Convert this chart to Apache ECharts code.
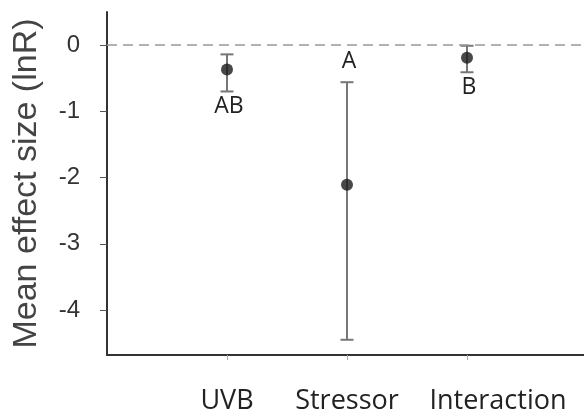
<!DOCTYPE html>
<html>
<head>
<meta charset="utf-8">
<title>Mean effect size</title>
<script src="https://cdn.jsdelivr.net/npm/echarts@6/dist/echarts.min.js"></script>
<style>
  html, body { margin: 0; padding: 0; background: #fff; }
  #chart { width: 584px; height: 416px; }
</style>
</head>
<body>
<div id="chart"></div>
<script>
// data
var categories = ['UVB', 'Stressor', 'Interaction'];
var means = [-0.37, -2.11, -0.19];
var lower = [-0.70, -4.45, -0.41];
var upper = [-0.14, -0.56, -0.01];
var letters = ['AB', 'A', 'B'];
var letterSide = ['below', 'above', 'below'];
var yTicks = [0, -1, -2, -3, -4];

// pad the category axis so the points sit 120px apart like the original
var axisCats = [''].concat(categories).concat(['']);

var barData = [], pointData = [];
for (var i = 0; i < categories.length; i++) {
    barData.push([i + 1, lower[i], upper[i], i]);
    pointData.push([i + 1, means[i]]);
}

var chart = echarts.init(document.getElementById('chart'));

var option = {
    animation: false,
    grid: { left: 107, right: -3, top: 12, bottom: 61, containLabel: false, outerBoundsMode: 'none' },
    xAxis: {
        type: 'category',
        data: axisCats,
        boundaryGap: false,
        axisLine: { onZero: false, lineStyle: { color: '#333', width: 2 } },
        axisTick: {
            length: 5,
            lineStyle: { color: '#aaa', width: 1 },
            interval: function (idx) { return idx >= 1 && idx <= categories.length; }
        },
        axisLabel: {
            interval: 0,
            margin: 33,
            color: '#222',
            fontFamily: 'Open Sans',
            fontSize: 27,
            formatter: function (v) {
                return v === 'Interaction' ? '{r|' + v + '}' : v;
            },
            rich: {
                r: { fontFamily: 'Open Sans', fontSize: 27, color: '#222', padding: [0, 0, 0, 62] }
            }
        },
        splitLine: { show: false }
    },
    yAxis: {
        type: 'value',
        min: -4.68,
        max: 0.5,
        name: 'Mean effect size (lnR)',
        nameLocation: 'middle',
        nameGap: 63,
        nameTextStyle: { fontFamily: 'Liberation Sans', fontSize: 34, color: '#444' },
        axisLine: { show: true, onZero: false, lineStyle: { color: '#333', width: 2 } },
        axisTick: {
            show: true, length: 7, lineStyle: { color: '#555', width: 1 },
            customValues: yTicks
        },
        axisLabel: {
            margin: 27,
            fontFamily: 'Liberation Sans',
            fontSize: 24,
            color: '#333',
            customValues: yTicks
        },
        splitLine: { show: false }
    },
    series: [
        {
            type: 'custom',
            data: barData,
            z: 2,
            renderItem: function (params, api) {
                var x = api.value(0);
                var lo = api.coord([x, api.value(1)]);
                var hi = api.coord([x, api.value(2)]);
                var k = api.value(3);
                var cap = 6.5;
                var style = { stroke: '#777', lineWidth: 2 };
                var ty = letterSide[k] === 'above' ? hi[1] - 21 : lo[1] + 15;
                return {
                    type: 'group',
                    children: [
                        { type: 'line', shape: { x1: lo[0], y1: lo[1], x2: hi[0], y2: hi[1] }, style: style },
                        { type: 'line', shape: { x1: lo[0] - cap, y1: lo[1], x2: lo[0] + cap, y2: lo[1] }, style: style },
                        { type: 'line', shape: { x1: hi[0] - cap, y1: hi[1], x2: hi[0] + cap, y2: hi[1] }, style: style },
                        {
                            type: 'text',
                            style: {
                                x: lo[0] + 2, y: ty,
                                text: letters[k],
                                align: 'center', verticalAlign: 'middle',
                                fontFamily: 'Open Sans', fontSize: 23, fill: '#222'
                            }
                        }
                    ]
                };
            },
            markLine: {
                silent: true,
                symbol: 'none',
                label: { show: false },
                lineStyle: { color: '#999', width: 1.5, type: [10, 6] },
                data: [{ yAxis: 0 }]
            }
        },
        {
            type: 'scatter',
            data: pointData,
            symbolSize: 12,
            z: 3,
            itemStyle: { color: '#1a1a1a' }
        }
    ]
};

chart.setOption(option);
</script>
</body>
</html>
